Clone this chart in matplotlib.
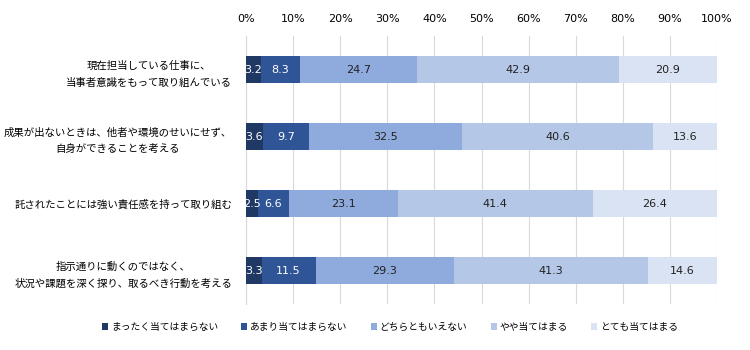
import numpy as np
import matplotlib.pyplot as plt

plt.rcParams['font.family'] = ['Noto Sans CJK JP', 'DejaVu Sans']

categories = [
    "現在担当している仕事に、\n当事者意識をもって取り組んでいる",
    "成果が出ないときは、他者や環境のせいにせず、\n自身ができることを考える",
    "託されたことには強い責任感を持って取り組む",
    "指示通りに動くのではなく、\n状況や課題を深く探り、取るべき行動を考える",
]
series_names = ["まったく当てはまらない", "あまり当てはまらない", "どちらともいえない",
                "やや当てはまる", "とても当てはまる"]
values = [
    [3.2, 3.6, 2.5, 3.3],
    [8.3, 9.7, 6.6, 11.5],
    [24.7, 32.5, 23.1, 29.3],
    [42.9, 40.6, 41.4, 41.3],
    [20.9, 13.6, 26.4, 14.6],
]
colors = ["#203864", "#2F5597", "#8FAADC", "#B4C7E7", "#DAE3F3"]
text_colors = ["white", "white", "#222222", "#222222", "#222222"]
ticks = [0, 10, 20, 30, 40, 50, 60, 70, 80, 90, 100]

fig = plt.figure(figsize=(7.5, 3.5), dpi=100)
ax = fig.add_axes([0.328, 0.131, 0.628, 0.766])

y = np.arange(len(categories))
left = np.zeros(len(categories))
for name, vals, c, tc in zip(series_names, values, colors, text_colors):
    vals = np.array(vals)
    ax.barh(y, vals, left=left, height=0.4, color=c, label=name, zorder=3)
    for yi, l, v in zip(y, left, vals):
        ax.text(l + v / 2, yi, f"{v:.1f}", ha='center', va='center',
                color=tc, fontsize=8, family=['DejaVu Sans'], zorder=4)
    left += vals

ax.set_xlim(0, 100)
ax.set_ylim(len(categories) - 0.5, -0.5)
ax.set_xticks(ticks)
ax.set_xticklabels([f"{t}%" for t in ticks], fontsize=8, family=['DejaVu Sans'])
ax.xaxis.tick_top()
ax.tick_params(axis='x', length=0, pad=9)
ax.tick_params(axis='y', length=0, pad=10)
ax.set_yticks(y)
ax.set_yticklabels(categories, fontsize=7.5, linespacing=1.85, multialignment='center')
ax.grid(axis='x', color='#d9d9d9', linewidth=0.8, zorder=0)
for s in ['top', 'right', 'bottom']:
    ax.spines[s].set_visible(False)
ax.spines['left'].set_color('#d9d9d9')

handles, labels = ax.get_legend_handles_labels()
fig.legend(handles, labels, loc='center', bbox_to_anchor=(0.52, 0.066), ncol=5,
           frameon=False, fontsize=7, handlelength=0.6, handleheight=0.6,
           columnspacing=2.4, handletextpad=0.3)

fig.savefig('out.png', dpi=100)
